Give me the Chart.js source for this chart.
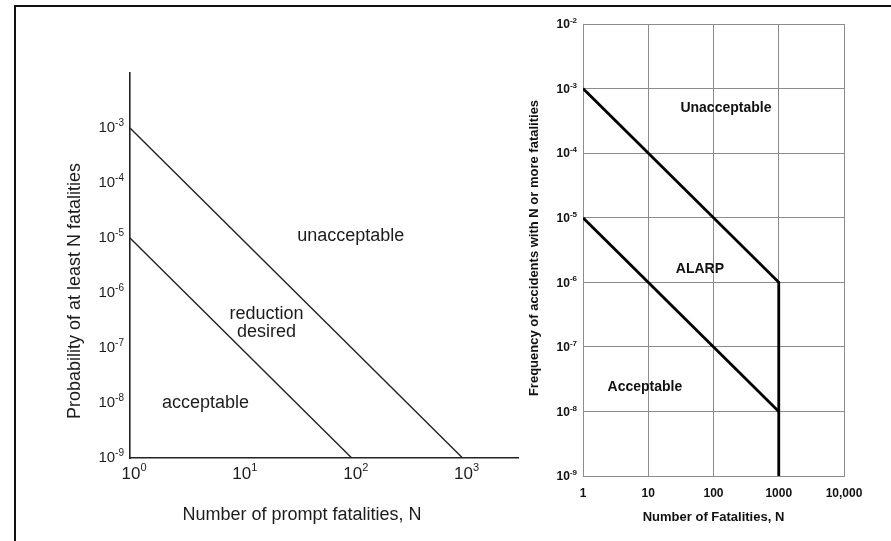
<!DOCTYPE html>
<html>
<head>
<meta charset="utf-8">
<script src="https://cdn.jsdelivr.net/npm/chart.js@4.4.1/dist/chart.umd.min.js"></script>
<style>
  html, body { margin: 0; padding: 0; background: #fff; }
  body { width: 891px; height: 541px; position: relative; overflow: hidden; }
  canvas { position: absolute; left: 0; top: 0; }
  #frame { position: absolute; left: 14px; top: 5px; right: -10px; bottom: -10px;
           border-left: 2px solid #111; border-top: 2px solid #111; }
</style>
</head>
<body>
<div id="frame"></div>
<canvas id="left" width="891" height="541"></canvas>
<canvas id="right" width="891" height="541"></canvas>
<script>
// left panel: criterion lines, N vs probability
const upperN = [1, 1000];
const upperP = [1e-3, 1e-9];
const lowerN = [1, 100];
const lowerP = [1e-5, 1e-9];
const leftXExp = [0, 1, 2, 3];
const leftYExp = [-3, -4, -5, -6, -7, -8, -9];

// right panel: F-N criterion, N vs frequency
const highN = [1, 1000, 1000];
const highF = [1e-3, 1e-6, 1e-9];
const lowN = [1, 1000];
const lowF = [1e-5, 1e-8];
const rightXTicks = [1, 10, 100, 1000, 10000];
const rightXLabels = ['1', '10', '100', '1000', '10,000'];
const rightYExp = [-2, -3, -4, -5, -6, -7, -8, -9];

const FAM = '"Liberation Sans", Arial, sans-serif';

function pts(xs, ys) {
  return xs.map(function (x, i) { return { x: x, y: ys[i] }; });
}

// draws "10" with a raised exponent
function pow10(ctx, exp, x, y, align, font, supFont, raise) {
  const sup = String(exp);
  ctx.font = font;
  const wb = ctx.measureText('10').width;
  ctx.font = supFont;
  const ws = ctx.measureText(sup).width;
  const w = wb + ws;
  let x0 = x;
  if (align === 'right') x0 = x - w;
  if (align === 'center') x0 = x - w / 2;
  ctx.textAlign = 'left';
  ctx.textBaseline = 'middle';
  ctx.font = font;
  ctx.fillText('10', x0, y);
  ctx.font = supFont;
  ctx.fillText(sup, x0 + wb, y - raise);
}

function vtext(ctx, text, x, y) {
  ctx.save();
  ctx.translate(x, y);
  ctx.rotate(-Math.PI / 2);
  ctx.textAlign = 'center';
  ctx.textBaseline = 'middle';
  ctx.fillText(text, 0, 0);
  ctx.restore();
}

const leftText = {
  id: 'leftText',
  afterDraw(chart) {
    const ctx = chart.ctx;
    const xs = chart.scales.x, ys = chart.scales.y;
    ctx.save();
    ctx.fillStyle = '#1c1c1c';
    leftYExp.forEach(function (e) {
      pow10(ctx, e, xs.left - 6, ys.getPixelForValue(Math.pow(10, e)), 'right',
        '15px ' + FAM, '10px ' + FAM, 5);
    });
    leftXExp.forEach(function (e) {
      pow10(ctx, e, xs.getPixelForValue(Math.pow(10, e)) + 4, ys.bottom + 16, 'center',
        '17px ' + FAM, '11px ' + FAM, 6);
    });
    ctx.font = '18px ' + FAM;
    ctx.textAlign = 'center';
    ctx.textBaseline = 'middle';
    ctx.fillText('Number of prompt fatalities, N', 302, 515);
    vtext(ctx, 'Probability of at least N fatalities', 75, 291);

    ctx.fillText('unacceptable', xs.getPixelForValue(98), ys.getPixelForValue(1.1e-5));
    ctx.fillText('reduction', xs.getPixelForValue(17), ys.getPixelForValue(2.9e-7) - 9);
    ctx.fillText('desired', xs.getPixelForValue(17), ys.getPixelForValue(2.9e-7) + 9);
    ctx.fillText('acceptable', xs.getPixelForValue(4.8), ys.getPixelForValue(1e-8));
    ctx.restore();
  }
};

const rightText = {
  id: 'rightText',
  afterDraw(chart) {
    const ctx = chart.ctx;
    const xs = chart.scales.x, ys = chart.scales.y;
    ctx.save();
    ctx.fillStyle = '#111';
    rightYExp.forEach(function (e) {
      pow10(ctx, e, xs.left - 6, ys.getPixelForValue(Math.pow(10, e)) + 1, 'right',
        'bold 12px ' + FAM, 'bold 8px ' + FAM, 4);
    });
    ctx.font = 'bold 12px ' + FAM;
    ctx.textAlign = 'center';
    ctx.textBaseline = 'middle';
    rightXTicks.forEach(function (v, i) {
      ctx.fillText(rightXLabels[i], xs.getPixelForValue(v), ys.bottom + 18);
    });
    ctx.font = 'bold 13px ' + FAM;
    ctx.fillText('Number of Fatalities, N', (xs.left + xs.right) / 2, 517);
    vtext(ctx, 'Frequency of accidents with N or more fatalities', 534, 248);

    ctx.font = 'bold 14px ' + FAM;
    ctx.fillText('Unacceptable', xs.getPixelForValue(155), ys.getPixelForValue(5e-4));
    ctx.fillText('ALARP', xs.getPixelForValue(62), ys.getPixelForValue(1.6e-6));
    ctx.fillText('Acceptable', xs.getPixelForValue(8.9), ys.getPixelForValue(2.4e-8));
    ctx.restore();
  }
};

const plainAxis = {
  type: 'logarithmic',
  grid: { display: false, drawTicks: false },
  ticks: { display: false },
  border: { display: true, color: '#222', width: 1.6 }
};

new Chart(document.getElementById('left'), {
  type: 'scatter',
  data: {
    datasets: [
      { data: pts(upperN, upperP), showLine: true, borderColor: '#222', borderWidth: 1.4, pointRadius: 0 },
      { data: pts(lowerN, lowerP), showLine: true, borderColor: '#222', borderWidth: 1.4, pointRadius: 0 }
    ]
  },
  options: {
    responsive: false,
    animation: false,
    events: [],
    layout: { padding: { left: 130, right: 373, top: 73, bottom: 83 } },
    plugins: { legend: { display: false }, tooltip: { enabled: false } },
    scales: {
      x: Object.assign({}, plainAxis, { min: 1, max: 3160 }),
      y: Object.assign({}, plainAxis, { min: 1e-9, max: 1e-2 })
    }
  },
  plugins: [leftText]
});

const gridAxis = {
  type: 'logarithmic',
  grid: { display: true, drawTicks: false, color: '#8c8c8c', lineWidth: 1 },
  ticks: { display: false },
  border: { display: true, color: '#8c8c8c', width: 1 }
};

new Chart(document.getElementById('right'), {
  type: 'scatter',
  data: {
    datasets: [
      { data: pts(highN, highF), showLine: true, borderColor: '#000', borderWidth: 2.8, pointRadius: 0 },
      { data: pts(lowN, lowF), showLine: true, borderColor: '#000', borderWidth: 2.8, pointRadius: 0 }
    ]
  },
  options: {
    responsive: false,
    animation: false,
    events: [],
    layout: { padding: { left: 583, right: 47, top: 24, bottom: 65 } },
    plugins: { legend: { display: false }, tooltip: { enabled: false } },
    scales: {
      x: Object.assign({}, gridAxis, {
        min: 1, max: 10000,
        afterBuildTicks: function (s) { s.ticks = rightXTicks.map(function (v) { return { value: v }; }); }
      }),
      y: Object.assign({}, gridAxis, {
        min: 1e-9, max: 1e-2,
        afterBuildTicks: function (s) { s.ticks = rightYExp.map(function (e) { return { value: Math.pow(10, e) }; }); }
      })
    }
  },
  plugins: [rightText]
});
</script>
</body>
</html>
